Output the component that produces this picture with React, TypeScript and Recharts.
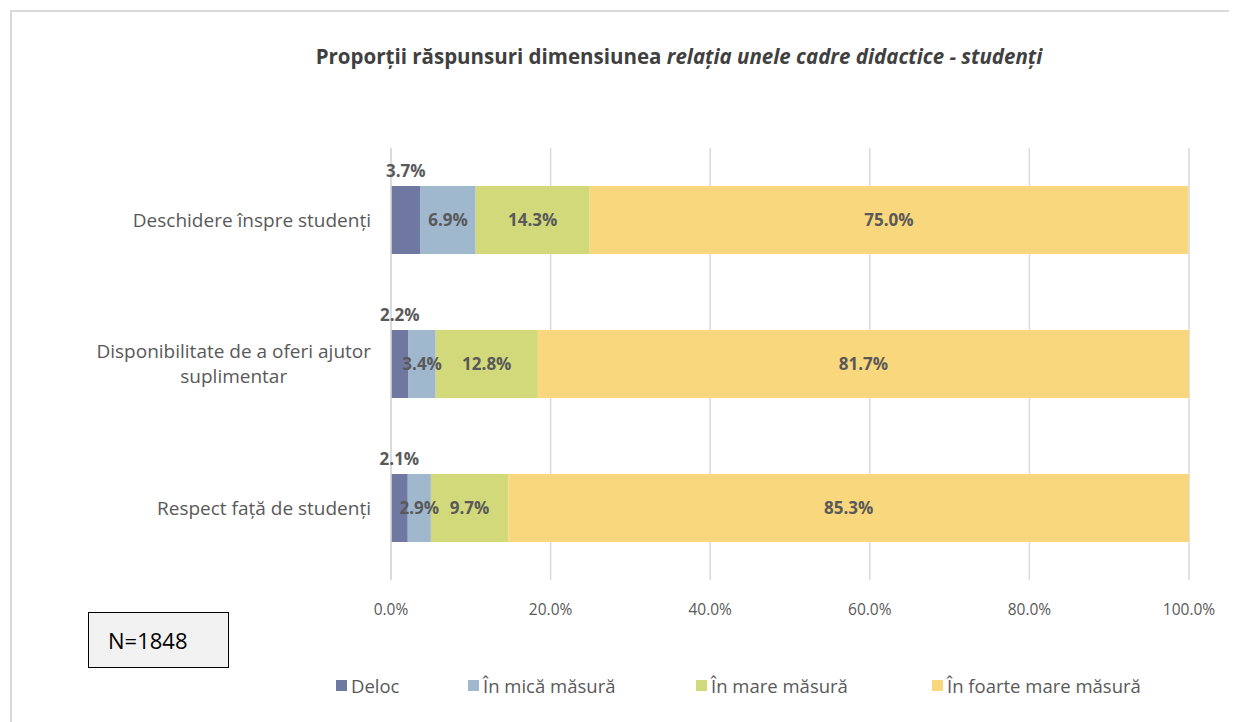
import React from 'react';
import { BarChart, Bar, XAxis, YAxis, CartesianGrid, LabelList } from 'recharts';

// categories (first one has a line break, like in the original sheet)
const CATEGORIES: string[][] = [
  ['Deschidere înspre studenți'],
  ['Disponibilitate de a oferi ajutor', 'suplimentar'],
  ['Respect față de studenți'],
];

const SERIES = ['Deloc', 'În mică măsură', 'În mare măsură', 'În foarte mare măsură'];
const COLORS = ['#6f78a0', '#a0b8ce', '#d2d97b', '#f9d77c'];

const DELOC = [3.7, 2.2, 2.1];
const MICA = [6.9, 3.4, 2.9];
const MARE = [14.3, 12.8, 9.7];
const FOARTE_MARE = [75.0, 81.7, 85.3];

const X_TICKS = [0, 20, 40, 60, 80, 100];

const FONT = "'Open Sans', 'Noto Sans', sans-serif";
const TEXT = '#595959';
const CAT_SIZE = 19;
const LABEL_SIZE = 17;

const data = CATEGORIES.map((lines, i) => ({
  name: lines.join('\n'),
  s0: DELOC[i],
  s1: MICA[i],
  s2: MARE[i],
  s3: FOARTE_MARE[i],
}));

const pct = (v: any) => `${Number(v).toFixed(1)}%`;

let measureCtx: CanvasRenderingContext2D | null = null;
function textWidth(s: string, font: string) {
  if (!measureCtx) measureCtx = document.createElement('canvas').getContext('2d');
  if (!measureCtx) return s.length * 9;
  measureCtx.font = font;
  return measureCtx.measureText(s).width;
}

function CategoryTick(props: any) {
  const { x, y, payload } = props;
  const lines = String(payload.value).split('\n');
  const right = x - 12;
  const lh = 25;
  if (lines.length === 1) {
    return (
      <text x={right} y={y} dy="0.35em" textAnchor="end" fill={TEXT} fontSize={CAT_SIZE} fontFamily={FONT}>
        {lines[0]}
      </text>
    );
  }
  const widest = Math.max(...lines.map((l) => textWidth(l, `${CAT_SIZE}px ${FONT}`)));
  const cx = right - widest / 2;
  const y0 = y - ((lines.length - 1) * lh) / 2;
  return (
    <text textAnchor="middle" fill={TEXT} fontSize={CAT_SIZE} fontFamily={FONT}>
      {lines.map((l, i) => (
        <tspan key={i} x={cx} y={y0 + i * lh} dy="0.35em">
          {l}
        </tspan>
      ))}
    </text>
  );
}

function AboveLabel(props: any) {
  const { x, y, width, value } = props;
  return (
    <text x={x + width / 2} y={y - 9} textAnchor="middle" fill={TEXT} fontSize={LABEL_SIZE} fontWeight="bold" fontFamily={FONT}>
      {pct(value)}
    </text>
  );
}

export default function App() {
  return (
    <div style={{ position: 'relative', width: 1229, height: 714, overflow: 'hidden', background: '#fff', fontFamily: FONT }}>
      <div
        style={{
          position: 'absolute',
          left: 2,
          top: 2,
          width: 1400,
          height: 900,
          borderLeft: '2px solid #d9d9d9',
          borderTop: '2px solid #d9d9d9',
        }}
      />
      <div
        style={{
          position: 'absolute',
          left: 671,
          top: 34,
          transform: 'translateX(-50%)',
          whiteSpace: 'nowrap',
          fontSize: 20.5,
          fontWeight: 'bold',
          color: '#404040',
        }}
      >
        Proporții răspunsuri dimensiunea <i>relația unele cadre didactice - studenți</i>
      </div>

      <div style={{ position: 'absolute', left: 0, top: 0 }}>
        <BarChart
          width={1229}
          height={714}
          data={data}
          layout="vertical"
          margin={{ top: 140, right: 48, bottom: 82, left: 0 }}
          barSize={68}
        >
          <CartesianGrid horizontal={false} stroke="#d9d9d9" strokeWidth={1.5} />
          <XAxis
            type="number"
            domain={[0, 100]}
            ticks={X_TICKS}
            allowDataOverflow
            tickFormatter={pct}
            axisLine={false}
            tickLine={false}
            tickMargin={18}
            height={60}
            tick={{ fill: TEXT, fontSize: 15.5, fontFamily: FONT }}
          />
          <YAxis
            type="category"
            dataKey="name"
            width={383}
            axisLine={{ stroke: '#d9d9d9', strokeWidth: 1.5 }}
            tickLine={false}
            tick={<CategoryTick />}
            interval={0}
          />
          {SERIES.map((s, i) => (
            <Bar key={s} dataKey={`s${i}`} name={s} stackId="a" fill={COLORS[i]} isAnimationActive={false}>
              {i === 0 ? (
                <LabelList dataKey={`s${i}`} content={<AboveLabel />} />
              ) : (
                <LabelList
                  dataKey={`s${i}`}
                  position="center"
                  formatter={pct}
                  fill={TEXT}
                  fontSize={LABEL_SIZE}
                  fontWeight="bold"
                  fontFamily={FONT}
                />
              )}
            </Bar>
          ))}
        </BarChart>
      </div>

      <div
        style={{
          position: 'absolute',
          left: 80,
          top: 604,
          width: 141,
          height: 56,
          background: '#f2f2f2',
          border: '1.5px solid #000',
          display: 'flex',
          alignItems: 'center',
          paddingLeft: 19,
          boxSizing: 'border-box',
          fontSize: 22,
          color: '#000',
        }}
      >
        N=1848
      </div>

      {SERIES.map((s, i) => (
        <div
          key={s}
          style={{
            position: 'absolute',
            left: [328, 460, 688, 924][i],
            top: 665,
            display: 'flex',
            alignItems: 'center',
            whiteSpace: 'nowrap',
            fontSize: 18.5,
            color: TEXT,
          }}
        >
          <span style={{ display: 'inline-block', width: 11, height: 11, background: COLORS[i], marginRight: 4 }} />
          {s}
        </div>
      ))}
    </div>
  );
}
